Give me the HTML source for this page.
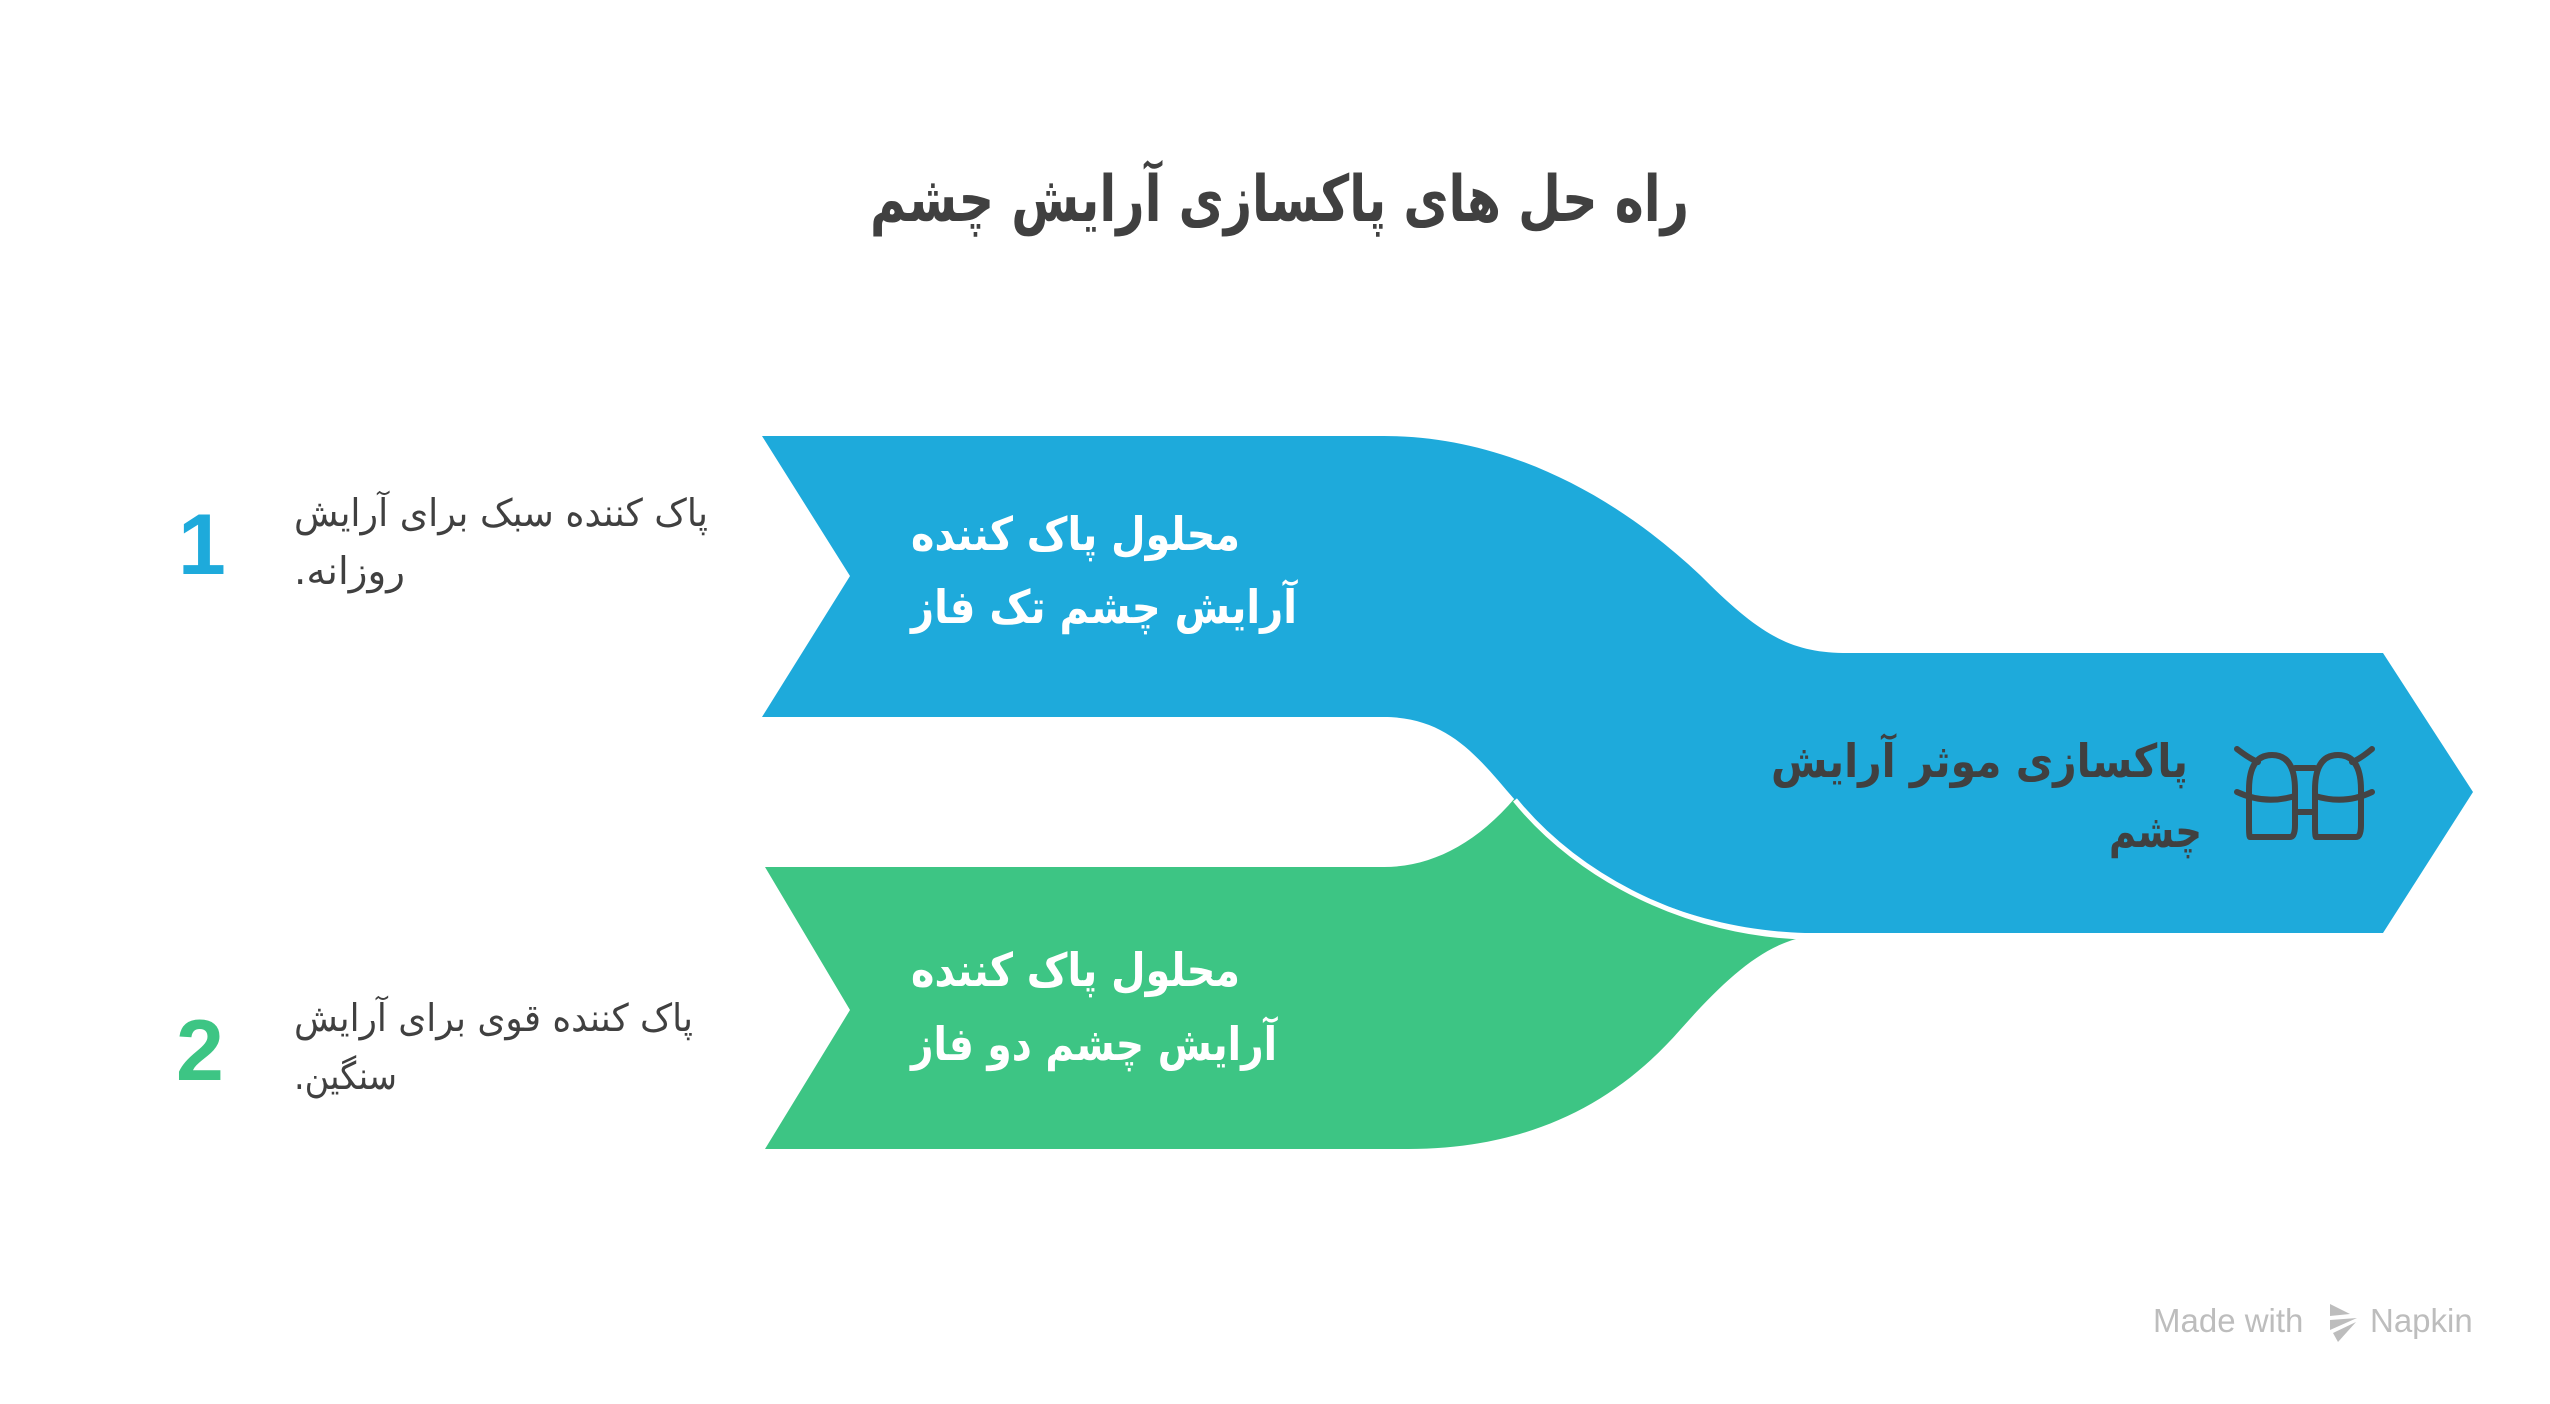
<!DOCTYPE html>
<html><head><meta charset="utf-8"><style>
html,body{margin:0;padding:0;background:#fff}
svg{display:block}
</style></head><body>
<svg width="2550" height="1404" viewBox="0 0 2550 1404" xmlns="http://www.w3.org/2000/svg">
<rect width="2550" height="1404" fill="#fff"/>
<path d="M765,867 L1384,867 C1430,867 1475,845 1515,798 C1580,880 1690,936 1805,937 C1760,945 1720,985 1680,1030 C1610,1110 1520,1149 1408,1149 L765,1149 L850,1010 Z" fill="#3DC584"/>
<path d="M762,436 L1384,436 C1500,436 1610,490 1700,575 C1760,635 1790,653 1848,653 L2383,653 L2473,792 L2383,933 L1805,933 C1690,930 1580,880 1515,800 C1480,760 1450,717 1384,717 L762,717 L850,576 Z" fill="#1EAADB"/>
<path d="M1515,800 C1580,880 1690,934 1805,937" fill="none" stroke="#fff" stroke-width="5"/>
<g font-family="'DejaVu Sans', sans-serif" direction="rtl">
<text x="1689" y="221" font-size="64" font-weight="bold" fill="#404040" textLength="819" lengthAdjust="spacingAndGlyphs">راه حل های پاکسازی آرایش چشم</text>
<text x="1240" y="550" font-size="46" font-weight="bold" fill="#fff" textLength="329" lengthAdjust="spacingAndGlyphs">محلول پاک کننده</text>
<text x="1297" y="623" font-size="46" font-weight="bold" fill="#fff" textLength="386" lengthAdjust="spacingAndGlyphs">آرایش چشم تک فاز</text>
<text x="1240" y="986" font-size="46" font-weight="bold" fill="#fff" textLength="329" lengthAdjust="spacingAndGlyphs">محلول پاک کننده</text>
<text x="1277" y="1060" font-size="46" font-weight="bold" fill="#fff" textLength="366" lengthAdjust="spacingAndGlyphs">آرایش چشم دو فاز</text>
<text x="2188" y="777" font-size="46" font-weight="bold" fill="#404040" textLength="417" lengthAdjust="spacingAndGlyphs">پاکسازی موثر آرایش</text>
<text x="2202" y="847" font-size="46" font-weight="bold" fill="#404040" textLength="93" lengthAdjust="spacingAndGlyphs">چشم</text>
<text x="708" y="526" font-size="38" fill="#404040" textLength="414" lengthAdjust="spacingAndGlyphs">پاک کننده سبک برای آرایش</text>
<text x="405" y="584" font-size="38" fill="#404040" textLength="111" lengthAdjust="spacingAndGlyphs">روزانه.</text>
<text x="693" y="1031" font-size="38" fill="#404040" textLength="399" lengthAdjust="spacingAndGlyphs">پاک کننده قوی برای آرایش</text>
<text x="397" y="1089" font-size="38" fill="#404040" textLength="103" lengthAdjust="spacingAndGlyphs">سنگین.</text>
</g>
<g font-family="'Liberation Sans', sans-serif" font-weight="bold" font-size="86">
<text x="178" y="574" fill="#1EAADB">1</text>
<text x="176" y="1080" fill="#3DC584">2</text>
</g>
<g fill="none" stroke="#444" stroke-width="6" stroke-linecap="round">
<path d="M2250,837 L2290,837 Q2295,837 2295,825 L2295,790 Q2295,755 2272,755 Q2249,755 2249,790 L2249,825 Q2249,837 2250,837 Z"/>
<path d="M2316,837 L2356,837 Q2361,837 2361,825 L2361,790 Q2361,755 2338,755 Q2315,755 2315,790 L2315,825 Q2315,837 2316,837 Z"/>
<path d="M2295,768 L2315,768 M2295,812 L2315,812"/>
<path d="M2237,749 Q2250,759 2258,762 M2372,749 Q2360,759 2352,762"/>
<path d="M2237,792 Q2265,805 2295,796 M2315,796 Q2345,805 2372,792"/>
</g>
<text x="2153" y="1332" font-family="'Liberation Sans', sans-serif" font-size="33" fill="#bdbdbd">Made with</text>
<path d="M2330,1304 L2350,1314 L2330,1316 Z M2330,1320 L2357,1318 L2330,1330 Z M2333,1333 L2356,1322 L2338,1342 Z" fill="#bdbdbd"/>
<text x="2370" y="1332" font-family="'Liberation Sans', sans-serif" font-size="33" fill="#bdbdbd">Napkin</text>
</svg>
</body></html>
